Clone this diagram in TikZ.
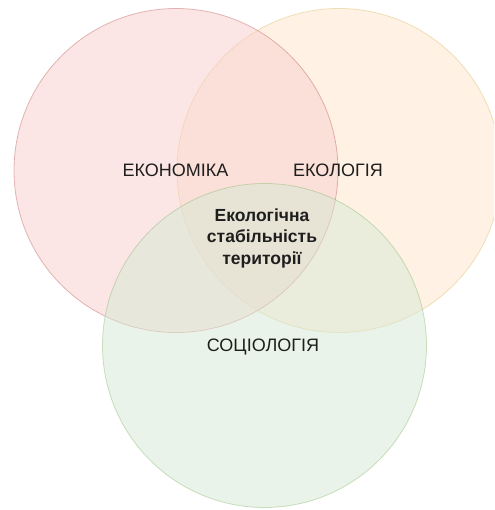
\documentclass[tikz,border=0pt]{standalone}
\usepackage{fontspec}
\setmainfont{Liberation Sans}
\definecolor{pinkfill}{HTML}{F8CECC}
\definecolor{pinkline}{HTML}{B85450}
\definecolor{orangefill}{HTML}{FFE6CC}
\definecolor{orangeline}{HTML}{D6B656}
\definecolor{greenfill}{HTML}{D5E8D4}
\definecolor{greenline}{HTML}{82B366}
\definecolor{txt}{HTML}{1E1E1E}
\begin{document}
\begin{tikzpicture}[x=1pt,y=-1pt,
  setcircle/.style={circle,minimum size=324pt,inner sep=0pt,line width=0.8pt,fill opacity=0.5,draw opacity=0.4},
  setlabel/.style={text=txt,font=\fontsize{18}{21}\selectfont,inner sep=0pt},
  corelabel/.style={text=txt,font=\fontsize{17.5}{21.5}\selectfont\bfseries,align=center,inner sep=0pt}]
\useasboundingbox (0,0) rectangle (494,510);
\begin{scope}
\clip (0,0) rectangle (494,510);
\node[setcircle,fill=orangefill,draw=orangeline] (eco) at (339,170.5) {};
\node[setcircle,fill=pinkfill,draw=pinkline] (econ) at (176,170.5) {};
\node[setcircle,fill=greenfill,draw=greenline] (soc) at (264.5,345.5) {};
\end{scope}
\node[setlabel] (l1) at (175.5,170) {ЕКОНОМІКА};
\node[setlabel] (l2) at (338,170) {ЕКОЛОГІЯ};
\node[setlabel] (l3) at (263,347) {СОЦІОЛОГІЯ};
\node[corelabel] (core) at (262,238) {Екологічна\\стабільність\\території};
\end{tikzpicture}
\end{document}
